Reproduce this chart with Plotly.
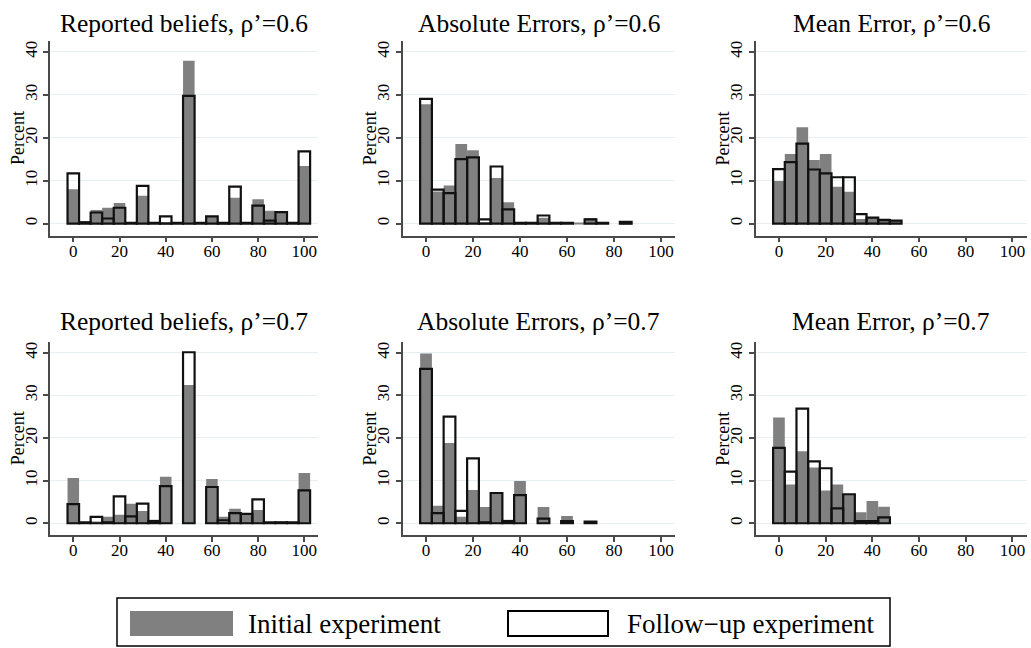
import plotly.graph_objects as go

W, H = 1031, 648

# ---------------- data (percent per 5-unit bin, bins centred at 0,5,...,100) ----------------
bins = list(range(0, 101, 5))

titles = [
    "Reported beliefs, ρ’=0.6", "Absolute Errors, ρ’=0.6", "Mean Error, ρ’=0.6",
    "Reported beliefs, ρ’=0.7", "Absolute Errors, ρ’=0.7", "Mean Error, ρ’=0.7",
]

initial_beliefs_06 = [8.0, 0.6, 3.2, 3.7, 4.8, 0, 6.5, 0, 0.4, 0, 37.9, 0, 1.7, 0.3, 6.0, 0, 5.7, 3.0, 2.9, 0, 13.4]
followup_beliefs_06 = [11.7, 0.3, 2.6, 1.2, 3.7, 0.2, 8.8, 0.2, 1.7, 0.2, 29.7, 0.2, 1.7, 0.2, 8.6, 0.2, 4.2, 0.7, 2.7, 0.2, 16.8]

initial_abs_06 = [27.8, 7.5, 8.9, 18.5, 17.1, 0.3, 10.6, 5.0, 0.4, 0, 1.4, 0, 0, 0.2, 1.3, 0, None, 0.4, None, None, None]
followup_abs_06 = [29.0, 7.9, 7.1, 15.0, 15.4, 1.0, 13.3, 3.3, 0.2, 0.2, 1.9, 0.2, 0.2, None, 1.0, 0.2, None, 0.4, None, None, None]

initial_mean_06 = [9.9, 16.2, 22.4, 14.8, 16.2, 8.6, 7.4, 1.1, 1.4, 1.2, 0.8]
followup_mean_06 = [12.7, 14.3, 18.6, 12.6, 11.7, 10.8, 10.8, 2.2, 1.4, 0.8, 0.7]

initial_beliefs_07 = [10.6, 0, 0.2, 1.5, 2.0, 4.6, 2.9, 0.8, 10.9, None, 32.4, None, 10.4, 1.5, 3.4, 2.4, 3.1, 0, 0.2, 0, 11.8]
followup_beliefs_07 = [4.5, 0.2, 1.5, 0.2, 6.3, 1.6, 4.6, 0.5, 8.7, None, 40.1, None, 8.5, 0.7, 2.4, 2.2, 5.6, 0.2, 0.2, 0.2, 7.7]

initial_abs_07 = [39.8, 4.1, 18.8, 1.5, 7.8, 3.8, 7.0, 0.8, 9.9, None, 3.8, None, 1.7, None, 0.5]
followup_abs_07 = [36.2, 2.4, 25.0, 2.9, 15.2, 0.2, 7.1, 0.5, 6.6, None, 1.1, None, 0.5, None, 0.4]

initial_mean_07 = [24.8, 9.1, 16.9, 13.1, 7.7, 9.1, 6.8, 2.6, 5.2, 3.9]
followup_mean_07 = [17.7, 12.1, 26.9, 14.5, 12.9, 3.5, 6.8, 0.5, 0.5, 1.4]

series = [
    (initial_beliefs_06, followup_beliefs_06),
    (initial_abs_06, followup_abs_06),
    (initial_mean_06, followup_mean_06),
    (initial_beliefs_07, followup_beliefs_07),
    (initial_abs_07, followup_abs_07),
    (initial_mean_07, followup_mean_07),
]

x_ticks = [0, 20, 40, 60, 80, 100]
y_ticks = [0, 10, 20, 30, 40]
y_title = "Percent"
legend_labels = ["Initial experiment", "Follow−up experiment"]

# ---------------- layout geometry (pixels) ----------------
x_range = [-10, 106]
y_range = [-2.8, 42.6]
col_px = [(50.2, 318.2), (402.5, 675.1), (755.6, 1026.5)]
row_px = [(40.5, 235.7), (341.6, 535.2)]
title_y_px = [23.0, 321.0]

GRAY = "#808080"
AXIS = "#4a4a4a"
GRID = "#e8eff2"
FONT = "Liberation Serif"

fig = go.Figure()
layout = dict(
    width=W, height=H, margin=dict(l=0, r=0, t=0, b=0),
    paper_bgcolor="white", plot_bgcolor="white",
    barmode="overlay", showlegend=False,
    annotations=[], shapes=[],
)

for i, (title, (init, fol)) in enumerate(zip(titles, series)):
    r, c = divmod(i, 3)
    n = i + 1
    xa = "x" if n == 1 else f"x{n}"
    ya = "y" if n == 1 else f"y{n}"
    fig.add_trace(go.Bar(x=bins[:len(init)], y=init, width=5, marker=dict(color=GRAY, line=dict(width=0)),
                         xaxis=xa, yaxis=ya, name=legend_labels[0]))
    fig.add_trace(go.Bar(x=bins[:len(fol)], y=fol, width=5,
                         marker=dict(color="rgba(0,0,0,0)", line=dict(color="#111111", width=2.2)),
                         xaxis=xa, yaxis=ya, name=legend_labels[1]))
    x0, x1 = col_px[c]
    y0, y1 = row_px[r]
    xkey = "xaxis" if n == 1 else f"xaxis{n}"
    ykey = "yaxis" if n == 1 else f"yaxis{n}"
    layout[xkey] = dict(
        domain=[x0 / W, x1 / W], anchor=ya, range=x_range, tickvals=x_ticks,
        showgrid=False, zeroline=False, showline=True, linecolor=AXIS, linewidth=1.5,
        ticks="outside", ticklen=5, tickwidth=1.5, tickcolor=AXIS, ticklabelstandoff=-6,
        tickfont=dict(family=FONT, size=17, color="black"), fixedrange=True,
    )
    layout[ykey] = dict(
        domain=[1 - y1 / H, 1 - y0 / H], anchor=xa, range=y_range, tickvals=y_ticks,
        showgrid=True, gridcolor=GRID, gridwidth=1, zeroline=False,
        showline=True, linecolor=AXIS, linewidth=1.5,
        ticks="outside", ticklen=5, tickwidth=1.5, tickcolor=AXIS, tickangle=-90,
        tickfont=dict(family=FONT, size=17, color="black"),
        fixedrange=True,
    )
    layout["annotations"].append(dict(
        text=title, xref="paper", yref="paper", x=(x0 + x1) / 2 / W, y=1 - title_y_px[r] / H,
        xanchor="center", yanchor="middle", showarrow=False,
        font=dict(family=FONT, size=25.5, color="black"),
    ))
    layout["annotations"].append(dict(
        text=y_title, xref="paper", yref="paper", x=(x0 - 32.3) / W, y=1 - (y0 + y1) / 2 / H,
        xanchor="center", yanchor="middle", textangle=-90, showarrow=False,
        font=dict(family=FONT, size=18, color="black"),
    ))

# ---------------- legend box (Stata style) ----------------
def px_rect(x0, y0, x1, y1, **kw):
    return dict(type="rect", xref="paper", yref="paper",
                x0=x0 / W, x1=x1 / W, y0=1 - y1 / H, y1=1 - y0 / H, **kw)

layout["shapes"].append(px_rect(117, 598, 890, 646, line=dict(color="black", width=1.5), fillcolor="white", layer="below"))
layout["shapes"].append(px_rect(130, 611, 233, 636, line=dict(width=0), fillcolor=GRAY))
layout["shapes"].append(px_rect(508, 611, 608, 636, line=dict(color="black", width=2), fillcolor="white"))
for label, xl in zip(legend_labels, [246, 625]):
    layout["annotations"].append(dict(
        text=label, xref="paper", yref="paper", x=xl / W, y=1 - 623.5 / H,
        xanchor="left", yanchor="middle", showarrow=False,
        font=dict(family=FONT, size=27, color="black"),
    ))

fig.update_layout(**layout)
fig.write_html("out.html")
